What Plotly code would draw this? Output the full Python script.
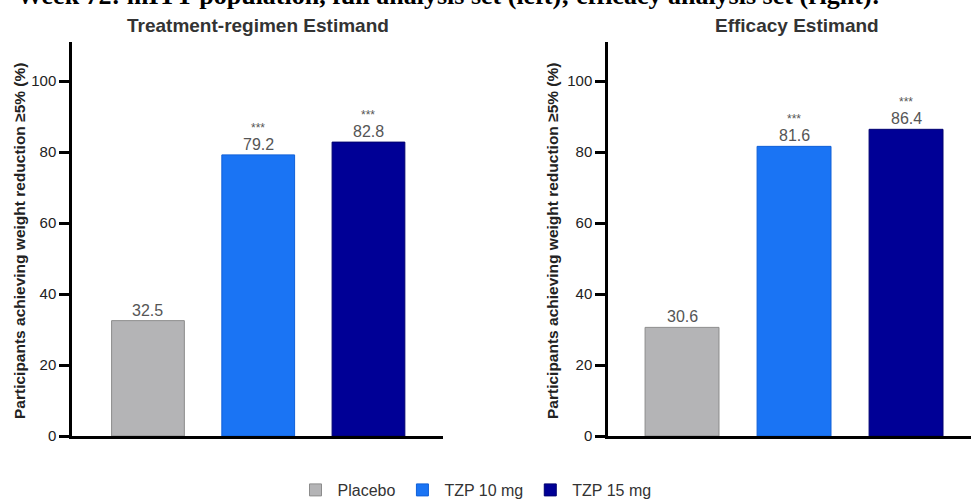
import plotly.graph_objects as go

# ---- data ----
categories = ["Placebo", "TZP 10 mg", "TZP 15 mg"]
left_values = [32.5, 79.2, 82.8]
right_values = [30.6, 81.6, 86.4]
left_stars = ["", "***", "***"]
right_stars = ["", "***", "***"]
bar_colors = ["#b4b4b6", "#1a74f4", "#000096"]
bar_edges = ["#8c8c8c", "#1060d8", "#000070"]
y_ticks = [0, 20, 40, 60, 80, 100]

main_title = "Week 72: mITT population, full analysis set (left); efficacy analysis set (right):"
left_title = "Treatment-regimen Estimand"
right_title = "Efficacy Estimand"
y_title = "Participants achieving weight reduction \u22655% (%)"

W, H = 971, 500
SANS = "Liberation Sans, Arial, sans-serif"
SERIF = "Liberation Serif, Times New Roman, serif"

fig = go.Figure()

for i, (cat, col, edge) in enumerate(zip(categories, bar_colors, bar_edges)):
    fig.add_trace(go.Bar(
        x=[cat], y=[left_values[i]], name=cat, xaxis="x", yaxis="y",
        marker=dict(color=col, line=dict(color=edge, width=1)),
        width=0.66, showlegend=True, legendgroup=cat, hoverinfo="skip"))
    fig.add_trace(go.Bar(
        x=[cat], y=[right_values[i]], name=cat, xaxis="x2", yaxis="y2",
        marker=dict(color=col, line=dict(color=edge, width=1)),
        width=0.66, showlegend=False, legendgroup=cat, hoverinfo="skip"))

annotations = []
for xr, yr, vals, stars in (("x", "y", left_values, left_stars),
                            ("x2", "y2", right_values, right_stars)):
    for cat, v, s in zip(categories, vals, stars):
        annotations.append(dict(
            x=cat, y=v, xref=xr, yref=yr, text=f"{v:.1f}", showarrow=False,
            yanchor="bottom", yshift=0,
            font=dict(family=SANS, size=16, color="#555555")))
        if s:
            annotations.append(dict(
                x=cat, y=v, xref=xr, yref=yr, text=s, showarrow=False,
                yanchor="bottom", yshift=18,
                font=dict(family=SANS, size=12, color="#555555")))

annotations += [
    dict(x=15 / W, y=1.008, xref="paper", yref="paper", text=f"<b>{main_title}</b>",
         showarrow=False, xanchor="left", yanchor="middle",
         font=dict(family=SERIF, size=26, color="#000000")),
    dict(x=258 / W, y=(H - 25) / H, xref="paper", yref="paper", text=f"<b>{left_title}</b>",
         showarrow=False, xanchor="center", yanchor="middle",
         font=dict(family=SANS, size=19, color="#333333")),
    dict(x=797 / W, y=(H - 25) / H, xref="paper", yref="paper", text=f"<b>{right_title}</b>",
         showarrow=False, xanchor="center", yanchor="middle",
         font=dict(family=SANS, size=19, color="#333333")),
    dict(x=19 / W, y=(H - 241) / H, xref="paper", yref="paper", text=f"<b>{y_title}</b>",
         showarrow=False, textangle=-90, xanchor="center", yanchor="middle",
         font=dict(family=SANS, size=15.5, color="#222222")),
    dict(x=552 / W, y=(H - 241) / H, xref="paper", yref="paper", text=f"<b>{y_title}</b>",
         showarrow=False, textangle=-90, xanchor="center", yanchor="middle",
         font=dict(family=SANS, size=15.5, color="#222222")),
]

ydom = [(H - 436) / H, (H - 42) / H]
xaxis_common = dict(type="category", categoryorder="array", categoryarray=categories,
                    showticklabels=False, ticks="", showgrid=False, zeroline=False,
                    showline=True, linecolor="#000000", linewidth=2.5, fixedrange=True)
yaxis_common = dict(range=[0, 111], tickvals=y_ticks, ticks="outside", ticklen=10,
                    tickwidth=2.5, tickcolor="#000000", showgrid=False, zeroline=False,
                    showline=True, linecolor="#000000", linewidth=2.5, domain=ydom,
                    tickfont=dict(family=SANS, size=15, color="#222222"),
                    tickprefix="<b>", ticksuffix="</b>", fixedrange=True)

fig.update_layout(
    width=W, height=H,
    margin=dict(l=0, r=0, t=0, b=0, autoexpand=False),
    paper_bgcolor="white", plot_bgcolor="white",
    barmode="overlay",
    xaxis=dict(domain=[72 / W, 443 / W], range=[-0.689, 2.676], anchor="y", **xaxis_common),
    xaxis2=dict(domain=[608 / W, 1.0], range=[-0.661, 2.58], anchor="y2", **xaxis_common),
    yaxis=dict(anchor="x", **yaxis_common),
    yaxis2=dict(anchor="x2", **yaxis_common),
    annotations=annotations,
    legend=dict(orientation="h", x=475 / W, xanchor="center", y=(H - 490) / H,
                yanchor="middle", font=dict(family=SANS, size=16, color="#333333"),
                bgcolor="rgba(0,0,0,0)", traceorder="normal", entrywidth=0,
                itemwidth=34),
    showlegend=True,
)

fig.write_html("out.html")
